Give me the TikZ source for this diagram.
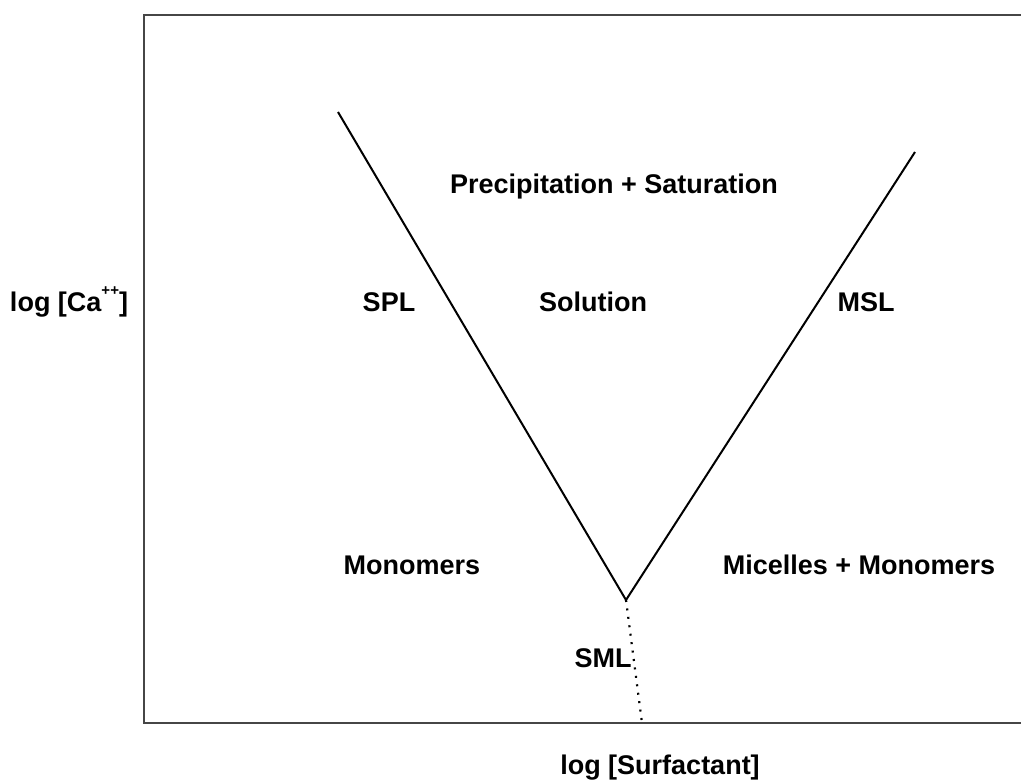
\documentclass[tikz,border=0pt]{standalone}
\usepackage{fontspec}
\setmainfont{Liberation Sans}
\definecolor{frameline}{RGB}{70, 70, 70}

\begin{document}
\begin{tikzpicture}[x=1pt, y=-1pt,
    lbl/.style={font=\fontsize{27}{32}\selectfont\bfseries, inner sep=0pt}]
        \useasboundingbox (0,0) rectangle (1021,783);
        % frame
        \coordinate (tl) at (144,15);
        \coordinate (tr) at (1021,15);
        \coordinate (bl) at (144,723);
        \coordinate (br) at (1021,723);
        \draw[frameline, line width=2.4pt] (tr) -- (tl) -- (bl) -- (br);
        % solubility boundaries
        \coordinate (spl) at (338,112);
        \coordinate (tip) at (626,600);
        \coordinate (msl) at (915,152);
        \coordinate (sml) at (642,723);
        \draw[line width=2pt] (spl) -- (tip) -- (msl);
        \draw[line width=2.2pt, dash pattern=on 2pt off 6.5pt] (tip) -- (sml);
        % region labels
        \node[lbl] (prec) at (614,187) {Precipitation + Saturation};
        \node[lbl] (spltxt) at (389,302) {SPL};
        \node[lbl] (soln) at (593,302) {Solution};
        \node[lbl] (msltxt) at (866,302) {MSL};
        \node[lbl] (mono) at (412,565) {Monomers};
        \node[lbl] (micel) at (859,565) {Micelles + Monomers};
        \node[lbl] (smltxt) at (603,658) {SML};
        % axes
        \node[lbl] (yax) at (69,302) {log [Ca\raisebox{0.62em}{\fontsize{15}{15}\selectfont ++}]};
        \node[lbl] (xax) at (660,768) {log [Surfactant]};
      \end{tikzpicture}
\end{document}
